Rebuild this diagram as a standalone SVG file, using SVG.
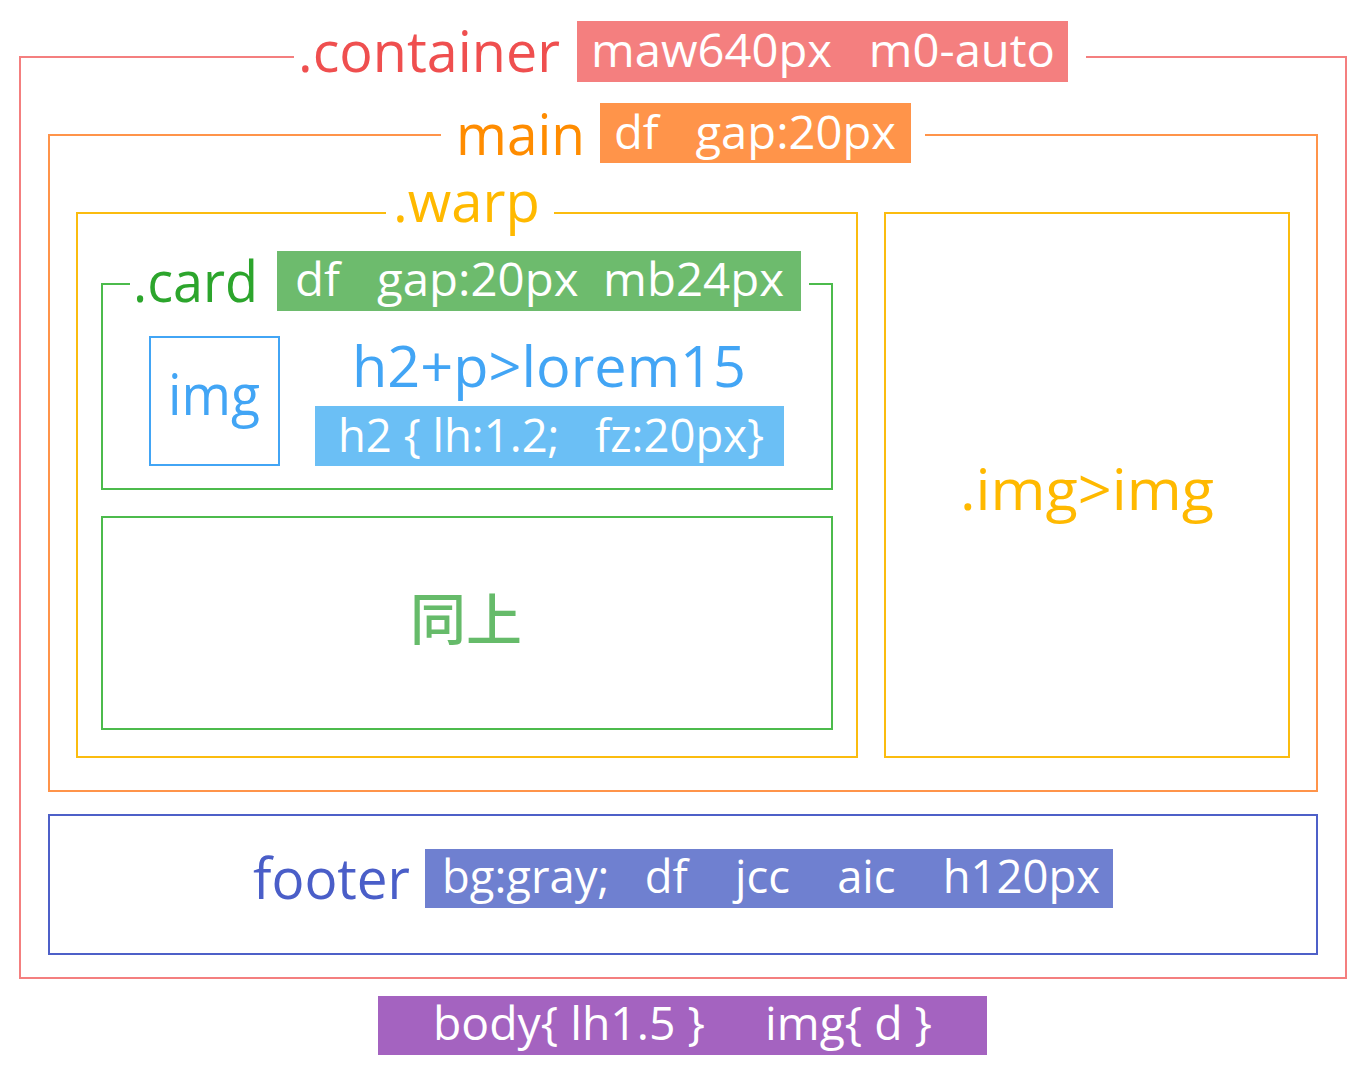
<svg xmlns="http://www.w3.org/2000/svg" width="1366" height="1087" viewBox="0 0 1366 1087">
  <style>
    text { font-family: "Open Sans", "Noto Sans", "Noto Sans CJK SC", sans-serif; font-weight: 500; }
    .frame { fill: none; stroke-width: 2; }
    .lbl { font-size: 56px; }
    .tag { font-size: 46px; fill: #ffffff; }
    .mid { text-anchor: middle; }
  </style>
  <rect width="1366" height="1087" fill="#ffffff"/>

  <!-- .container -->
  <g id="container">
    <path class="frame" stroke="#f47f7f" d="M294 57 H20 V978 H1346 V57 H1086"/>
    <text class="lbl" x="298" y="72" fill="#ef4f4f" textLength="262" lengthAdjust="spacingAndGlyphs">.container</text>
    <rect x="577" y="21" width="491" height="61" fill="#f47f7f"/>
    <text class="tag" x="591" y="67" textLength="464" lengthAdjust="spacingAndGlyphs" xml:space="preserve">maw640px   m0-auto</text>
  </g>

  <!-- main -->
  <g id="main">
    <path class="frame" stroke="#ff944a" d="M441 135 H49 V791 H1317 V135 H925"/>
    <text class="lbl" x="456" y="155" fill="#ff8c00" textLength="129" lengthAdjust="spacingAndGlyphs">main</text>
    <rect x="600" y="103" width="311" height="60" fill="#ff944a"/>
    <text class="tag" x="614" y="149" textLength="282" lengthAdjust="spacingAndGlyphs" xml:space="preserve">df   gap:20px</text>
  </g>

  <!-- .warp -->
  <g id="warp">
    <path class="frame" stroke="#fbbc0f" d="M386 213 H77 V757 H857 V213 H554"/>
    <text class="lbl" x="393" y="222" fill="#ffb900" textLength="147" lengthAdjust="spacingAndGlyphs">.warp</text>
  </g>

  <!-- .card -->
  <g id="card">
    <path class="frame" stroke="#4cbb4c" d="M130 284 H102 V489 H832 V284 H809"/>
    <text class="lbl" x="133" y="302" fill="#2ca52c" textLength="125" lengthAdjust="spacingAndGlyphs">.card</text>
    <rect x="277" y="251" width="524" height="60" fill="#6dbb6d"/>
    <text class="tag" x="295" y="296" textLength="489" lengthAdjust="spacingAndGlyphs" xml:space="preserve">df   gap:20px  mb24px</text>
  </g>

  <!-- img placeholder -->
  <g id="card-img">
    <rect class="frame" stroke="#42a5f5" x="150" y="337" width="129" height="128"/>
    <text class="lbl mid" x="214" y="415" fill="#42a5f5" textLength="92" lengthAdjust="spacingAndGlyphs">img</text>
  </g>

  <!-- card text -->
  <g id="card-text">
    <text class="lbl" x="352" y="387" fill="#42a5f5" textLength="394" lengthAdjust="spacingAndGlyphs">h2+p&gt;lorem15</text>
    <rect x="315" y="406" width="469" height="60" fill="#6bbff5"/>
    <text class="tag" x="338" y="452" textLength="426" lengthAdjust="spacingAndGlyphs" xml:space="preserve">h2 { lh:1.2;   fz:20px}</text>
  </g>

  <!-- second card -->
  <g id="card-2">
    <rect class="frame" stroke="#4cbb4c" x="102" y="517" width="730" height="212"/>
    <text class="mid" x="466" y="640" font-size="56" fill="#66bb6a">同上</text>
  </g>

  <!-- .img>img -->
  <g id="img-col">
    <rect class="frame" stroke="#fbbc0f" x="885" y="213" width="404" height="544"/>
    <text class="lbl" x="960" y="510" fill="#ffb900" textLength="254" lengthAdjust="spacingAndGlyphs">.img&gt;img</text>
  </g>

  <!-- footer -->
  <g id="footer">
    <rect class="frame" stroke="#4e60c8" x="49" y="815" width="1268" height="139"/>
    <text class="lbl" x="253" y="899" fill="#4a5ec8" textLength="157" lengthAdjust="spacingAndGlyphs">footer</text>
    <rect x="425" y="849" width="688" height="59" fill="#6f80d0"/>
    <text class="tag" x="442" y="893" textLength="658" lengthAdjust="spacingAndGlyphs" xml:space="preserve">bg:gray;   df    jcc    aic    h120px</text>
  </g>

  <!-- global rules -->
  <g id="global">
    <rect x="378" y="996" width="609" height="59" fill="#a463c0"/>
    <text class="tag" x="433" y="1040" textLength="499" lengthAdjust="spacingAndGlyphs" xml:space="preserve">body{ lh1.5 }     img{ d }</text>
  </g>

  <g id="connectors"/>
</svg>
